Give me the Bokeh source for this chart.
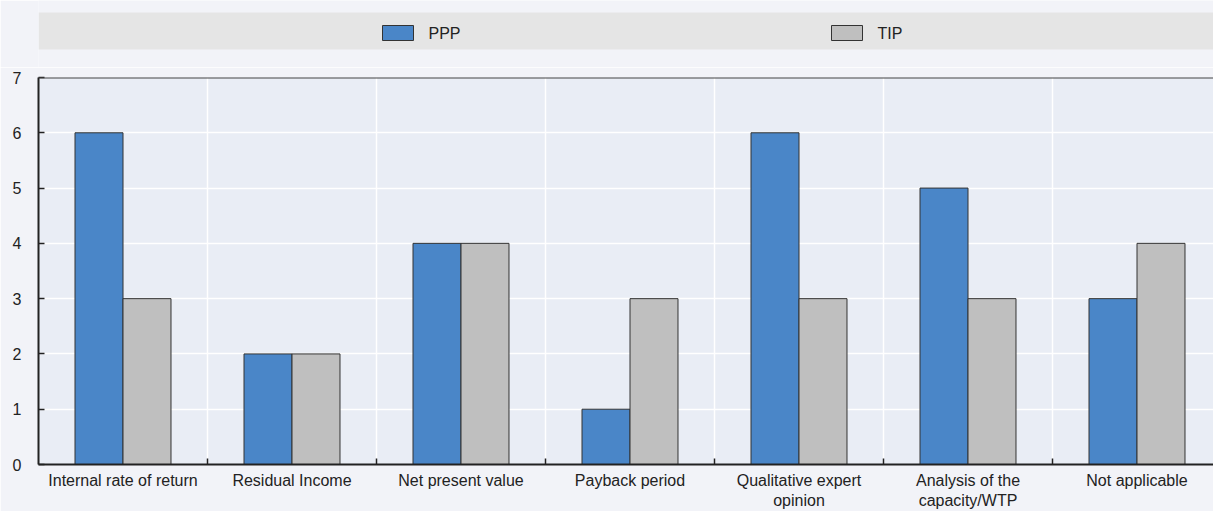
from bokeh.plotting import figure
from bokeh.layouts import column
from bokeh.models import Range1d, FixedTicker, Span, ColumnDataSource
from bokeh.embed import file_html
from bokeh.resources import INLINE

# Data
categories = ["Internal rate of return", "Residual Income", "Net present value",
              "Payback period", "Qualitative expert opinion",
              "Analysis of the capacity/WTP", "Not applicable"]
tick_labels = ["Internal rate of return", "Residual Income", "Net present value",
               "Payback period", "Qualitative expert\nopinion",
               "Analysis of the\ncapacity/WTP", "Not applicable"]
series = ["PPP", "TIP"]
ppp = [6, 2, 4, 1, 6, 5, 3]
tip = [3, 2, 4, 3, 3, 3, 4]
y_ticks = [0, 1, 2, 3, 4, 5, 6, 7]

colors = {"PPP": "#4a86c8", "TIP": "#bfbfbf"}
PAGE_BG = "#f2f3f8"
PLOT_BG = "#e9edf5"
FONT = "Liberation Sans Narrow, Arial Narrow, Liberation Sans, sans-serif"
TEXT = "#222222"

W = 1213
LEFT = 38
n = len(categories)
cat_w = 169.0
x_end = (W - LEFT) / cat_w
bar_w = 0.284

# ---- legend strip (frame aligned with the chart frame below) ----
leg = figure(width=W, height=67, x_range=Range1d(LEFT, W), y_range=Range1d(67, 0),
             output_backend="svg", toolbar_location=None,
             min_border_left=LEFT, min_border_right=0,
             min_border_top=0, min_border_bottom=0)
leg.axis.visible = False
leg.grid.visible = False
leg.outline_line_color = None
leg.background_fill_color = PAGE_BG
leg.border_fill_color = PAGE_BG
leg.quad(left=[LEFT], right=[W], top=[12], bottom=[49], fill_color="#e5e5e5", line_color=None)
sw_x = [382, 831]
leg.quad(left=sw_x, right=[x + 31 for x in sw_x], top=[25, 25], bottom=[40, 40],
         fill_color=[colors[s] for s in series], line_color="#333333", line_width=1)
leg.text(x=[x + 46 for x in sw_x], y=[32.5, 32.5], text=series,
         text_font={"value": FONT}, text_font_size="16px", text_color=TEXT,
         text_baseline="middle", text_align="left")

# ---- main chart ----
p = figure(width=W, height=444, x_range=Range1d(0, x_end), y_range=Range1d(0, 7),
           output_backend="svg", toolbar_location=None,
           min_border_left=LEFT, min_border_right=0, min_border_top=10, min_border_bottom=47)
p.background_fill_color = PLOT_BG
p.border_fill_color = PAGE_BG
p.outline_line_color = None

centers = [i + 0.5 for i in range(n)]
src = ColumnDataSource(dict(
    x_ppp=[c - bar_w / 2 for c in centers],
    x_tip=[c + bar_w / 2 for c in centers],
    ppp=ppp, tip=tip, cat=categories))
p.vbar(x="x_ppp", top="ppp", width=bar_w, source=src,
       fill_color=colors["PPP"], line_color="#333333", line_width=1)
p.vbar(x="x_tip", top="tip", width=bar_w, source=src,
       fill_color=colors["TIP"], line_color="#333333", line_width=1)

boundaries = list(range(1, n))

# x axis: labels at category centres, small marks at category boundaries
xa = p.xaxis[0]
xa.ticker = FixedTicker(ticks=centers, minor_ticks=boundaries)
xa.major_label_overrides = {c: lab for c, lab in zip(centers, tick_labels)}
xa.major_tick_in = 0
xa.major_tick_out = 0
xa.minor_tick_in = 6
xa.minor_tick_out = 0
xa.minor_tick_line_color = "#222222"
xa.minor_tick_line_width = 1.5
xa.axis_line_color = "#222222"
xa.axis_line_width = 2
xa.major_label_text_font = FONT
xa.major_label_text_font_size = "16px"
xa.major_label_text_color = TEXT
xa.major_label_text_line_height = 1.2
xa.major_label_standoff = 7

ya = p.yaxis[0]
ya.ticker = FixedTicker(ticks=y_ticks)
ya.major_tick_in = 6
ya.major_tick_out = 0
ya.minor_tick_line_color = None
ya.major_tick_line_color = "#222222"
ya.major_tick_line_width = 1.5
ya.axis_line_color = "#222222"
ya.axis_line_width = 2
ya.major_label_text_font = FONT
ya.major_label_text_font_size = "16px"
ya.major_label_text_color = TEXT
ya.major_label_standoff = 17

p.xgrid.ticker = FixedTicker(ticks=boundaries)
p.xgrid.grid_line_color = "white"
p.xgrid.grid_line_width = 1.5
p.ygrid.grid_line_color = "white"
p.ygrid.grid_line_width = 1.5

p.add_layout(Span(location=7, dimension="width", line_color="#444444", line_width=2))

layout = column(leg, p, spacing=0)
open("out.html", "w").write(file_html(layout, INLINE))
